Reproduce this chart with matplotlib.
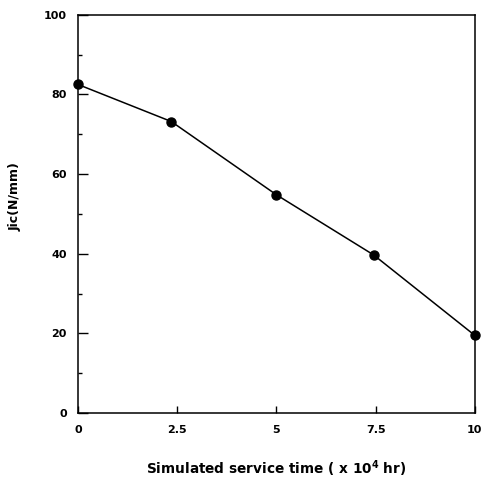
import numpy as np
import matplotlib.pyplot as plt
from matplotlib.ticker import MultipleLocator

# service time (x 10^4 hr) and Jic values
time = [0, 2.35, 5.0, 7.45, 10.0]
jic = [82.5, 73.2, 54.8, 39.7, 19.5]

plt.rcParams['font.family'] = 'DejaVu Sans'
plt.rcParams['font.weight'] = 'bold'
plt.rcParams['mathtext.default'] = 'bf'

fig = plt.figure(figsize=(4.82, 4.78), dpi=100)
ax = fig.add_axes([0.162, 0.136, 0.823, 0.833])

ax.plot(time, jic, 'k-', lw=1.1, marker='o', ms=6.5, mfc='black', mec='black', clip_on=False, zorder=3)

ax.set_xlim(0, 10)
ax.set_ylim(0, 100)
ax.set_xticks([0, 2.5, 5, 7.5, 10])
ax.set_xticklabels(['0', '2.5', '5', '7.5', '10'])
ax.set_yticks([0, 20, 40, 60, 80, 100])
ax.yaxis.set_minor_locator(MultipleLocator(10))

ax.tick_params(axis='both', which='major', direction='in', labelsize=8, width=1)
ax.tick_params(axis='y', which='major', length=7, pad=8)
ax.tick_params(axis='x', which='major', length=5, pad=9)
ax.tick_params(axis='y', which='minor', direction='in', length=3, width=1)
ax.tick_params(top=False, right=False)
for s in ax.spines.values():
    s.set_linewidth(1.1)

ax.set_xlabel('Simulated service time ( x 10$^{4}$ hr)', fontsize=9.8, fontweight='bold')
ax.xaxis.set_label_coords(0.5, -0.113)
ax.set_ylabel('Jic(N/mm)', fontsize=9, fontweight='bold', va='center')
ax.yaxis.set_label_coords(-0.159, 0.543)

fig.savefig('out.png', dpi=100)
